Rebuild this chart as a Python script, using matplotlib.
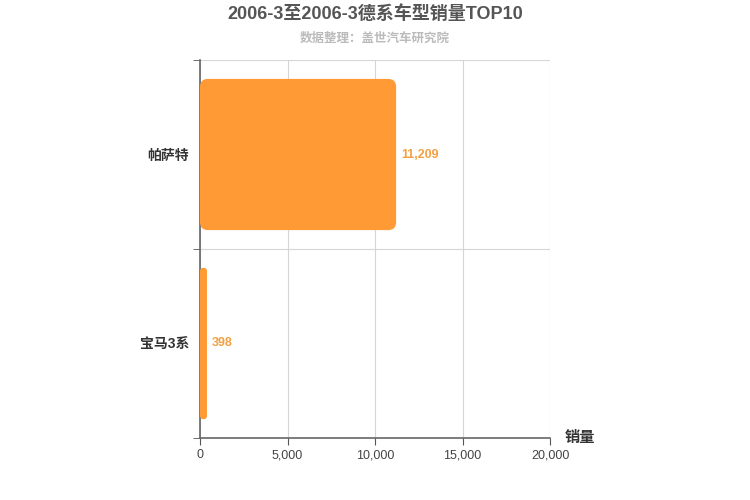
import matplotlib.pyplot as plt
from matplotlib.patches import FancyBboxPatch

plt.rcParams['font.family'] = ['Liberation Sans', 'Noto Sans CJK SC', 'DejaVu Sans']

models = ['帕萨特', '宝马3系']
sales = [11209, 398]
xticks = [0, 5000, 10000, 15000, 20000]

bar_color = '#FF9A35'
label_color = '#F4A040'

fig = plt.figure(figsize=(7.5, 5), dpi=100)
ax = fig.add_axes([200 / 750, 1 - 438 / 500, 350 / 750, 378 / 500])

ax.set_xlim(0, 20000)
ax.set_ylim(1.5, -0.5)

# px -> data conversion for rounded corners
x_per_px = 20000 / 350
y_per_px = 2 / 378
bar_h = 0.8

for i, v in enumerate(sales):
    w_px = v / x_per_px
    r_px = min(8, w_px / 2 - 0.5)
    r_px = max(r_px, 1)
    patch = FancyBboxPatch((0, i - bar_h / 2), v, bar_h,
                           boxstyle='round,pad=0,rounding_size=%f' % (r_px * x_per_px),
                           mutation_aspect=y_per_px / x_per_px,
                           facecolor=bar_color, edgecolor='none', zorder=3)
    ax.add_patch(patch)
    ax.text(v + 5 * x_per_px, i, '{:,}'.format(v), va='center', ha='left',
            fontsize=9, color=label_color, fontweight='bold', zorder=4)

ax.set_xticks(xticks)
ax.set_xticklabels(['{:,}'.format(t) for t in xticks], fontsize=9, color='#444')
ax.set_yticks(range(len(models)))
ax.set_yticklabels(models, fontsize=10, color='#333', fontweight='bold')
ax.set_yticks([-0.5, 0.5, 1.5], minor=True)
ax.tick_params(axis='y', which='major', length=0, pad=8)
ax.tick_params(axis='y', which='minor', length=5, color='#555')
ax.tick_params(axis='x', length=5, color='#555', pad=3)

ax.grid(axis='x', color='#d6d6d6', linewidth=0.8, zorder=0)
ax.grid(axis='y', which='minor', color='#d6d6d6', linewidth=0.8, zorder=0)
for s in ['top', 'right']:
    ax.spines[s].set_visible(False)
for s in ['left', 'bottom']:
    ax.spines[s].set_color('#666')
    ax.spines[s].set_linewidth(1.2)

fig.text(565 / 750, 1 - 438 / 500, '销量', fontsize=11, fontweight='bold',
         color='#333', ha='left', va='center')

fig.text(0.5, 1 - 14 / 500, '2006-3至2006-3德系车型销量TOP10', fontsize=13,
         fontweight='bold', color='#555', ha='center', va='center')
fig.text(0.5, 1 - 39 / 500, '数据整理：盖世汽车研究院', fontsize=9,
         fontweight='bold', color='#bbb', ha='center', va='center')

fig.savefig('out.png', dpi=100)
